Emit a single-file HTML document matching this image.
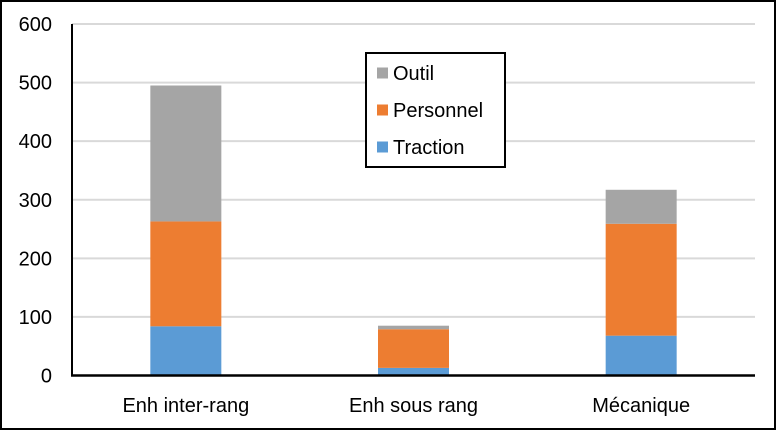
<!DOCTYPE html>
<html><head><meta charset="utf-8"><style>
body{margin:0;background:#fff}
svg{display:block;font-family:"Liberation Sans",sans-serif}
</style></head><body>
<svg id="chart" width="776" height="430">
<rect x="1" y="1" width="774" height="428" fill="#fff" stroke="#000" stroke-width="2"/>
<g id="grid"></g><g id="bars"></g><g id="axes"></g>
<g>
<rect x="366" y="53" width="139" height="114" fill="#fff" stroke="#000" stroke-width="2"/>
<g id="legend"></g>
</g>
</svg>
<script>
const categories=["Enh inter-rang","Enh sous rang","Mécanique"];
const seriesNames=["Traction","Personnel","Outil"];
const traction=[84,13,68];
const personnel=[179,66,191];
const outil=[232,6,58];
const yTicks=[0,100,200,300,400,500,600];
const colors=["#5b9bd5","#ed7d31","#a5a5a5"];
const NS="http://www.w3.org/2000/svg";
const x0=72,x1=755,yBase=375.5,yTop=24,yMax=600;
const y=v=>yBase-(v/yMax)*(yBase-yTop);
const bw=(x1-x0)/categories.length;
const xc=i=>x0+bw*(i+0.5);
function mk(t,a,p){const e=document.createElementNS(NS,t);for(const k in a)e.setAttribute(k,a[k]);p.appendChild(e);return e;}
const grid=document.getElementById('grid'),bars=document.getElementById('bars'),axes=document.getElementById('axes'),leg=document.getElementById('legend');
yTicks.forEach(t=>{
 if(t>0){const l=mk('line',{x1:x0,x2:x1,y1:y(t),y2:y(t),stroke:'#d9d9d9','stroke-width':2},grid);
 
 }
 const tx=mk('text',{x:52,y:y(t)+7,'text-anchor':'end','font-size':20,fill:'#000'},axes);
 tx.textContent=t;
 
 
});
const series=[traction,personnel,outil];
categories.forEach((c,i)=>{
 let acc=0;
 series.forEach((s,j)=>{
  const r=mk('rect',{x:xc(i)-35.5,width:71,y:y(acc+s[i]),height:y(acc)-y(acc+s[i]),fill:colors[j]},bars);
  
  
  acc+=s[i];
 });
 const t=mk('text',{x:xc(i),y:412,'text-anchor':'middle','font-size':20,fill:'#000'},axes);
 t.textContent=c;
 
 
});
const ya=mk('line',{x1:x0,x2:x0,y1:yTop,y2:yBase+1,stroke:'#000','stroke-width':2},axes);


const xa=mk('line',{x1:x0-1,x2:x1,y1:yBase,y2:yBase,stroke:'#000','stroke-width':2.5},axes);


const order=[2,1,0],ly=[73,110,147];
order.forEach((j,k)=>{
 const s=mk('rect',{x:377,y:ly[k]-5.5,width:11,height:11,fill:colors[j]},leg);
 
 
 const t=mk('text',{x:393,y:ly[k]+7,'font-size':20,fill:'#000'},leg);
 t.textContent=seriesNames[j];
 
 
});
</script>
</body></html>
